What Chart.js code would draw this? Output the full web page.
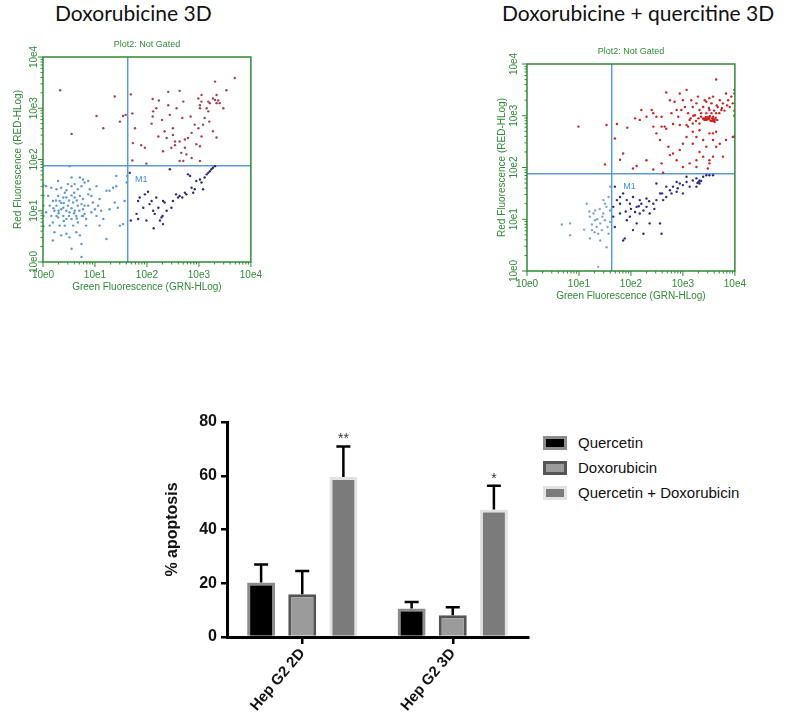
<!DOCTYPE html>
<html>
<head>
<meta charset="utf-8">
<script src="https://cdn.jsdelivr.net/npm/chart.js@4.4.1/dist/chart.umd.min.js"></script>
<style>
  html, body { margin: 0; padding: 0; background: #fff; }
  body { width: 800px; height: 716px; position: relative; overflow: hidden; }
  .box { position: absolute; }
  .bigtitle { position: absolute; font-family: Lato, "Open Sans", sans-serif; font-size: 21px; color: #111; white-space: nowrap; line-height: 24px; }
  #legend { position: absolute; left: 543px; top: 430px; font-family: "Liberation Sans", Arial, sans-serif; font-size: 15px; color: #111; }
  #legend .item { height: 25px; display: flex; align-items: center; white-space: nowrap; }
  #legend .sw { width: 18px; height: 8px; border-style: solid; border-width: 3px; margin-right: 11px; }
</style>
</head>
<body>
<div class="bigtitle" id="t1" style="left:55px; top:1px;"></div>
<div class="bigtitle" id="t2" style="left:502px; top:1px;"></div>

<div class="box" style="left:0px; top:32px;"><canvas id="flow1" width="265" height="270"></canvas></div>
<div class="box" style="left:484px; top:39px;"><canvas id="flow2" width="265" height="272"></canvas></div>
<div class="box" style="left:140px; top:400px;"><canvas id="bars" width="400" height="316"></canvas></div>
<div id="legend"></div>

<script>
// ---------------- DATA ----------------
const panelTitles = ['Doxorubicine 3D', 'Doxorubicine + quercitine 3D'];
const plotSubtitle = 'Plot2: Not Gated';
const xAxisTitle = 'Green Fluorescence (GRN-HLog)';
const yAxisTitle = 'Red Fluorescence (RED-HLog)';
const decadeLabels = ['10e0', '10e1', '10e2', '10e3', '10e4'];
const markerLabel = 'M1';
// quadrant gate positions (log decades)
const gate1 = [1.63, 1.88];
const gate2 = [1.63, 1.88];
const marker1 = [1.77, 1.61];
const marker2 = [1.85, 1.63];

// Panel 1 events: [green decade, red decade]
const leftRed = [
  [0.33,3.35],[0.55,2.50],[1.03,2.85],[1.16,2.61],[1.38,3.23],[1.48,2.74],[1.54,2.85],[1.59,2.87],
  [1.69,3.27],[1.72,2.90],[1.77,2.61],[1.73,2.32],[1.89,2.28],[1.96,2.23],[1.72,1.98],[1.99,1.92],
  [2.09,2.70],[2.11,2.84],[2.12,2.94],[2.18,3.00],[2.11,3.18],[2.23,3.15],[2.29,2.77],[2.22,2.45],
  [2.34,2.55],[2.38,2.42],[2.41,3.32],[2.41,3.06],[2.44,2.87],[2.50,2.61],[2.54,2.35],[2.54,2.28],
  [2.63,2.35],[2.57,3.00],[2.63,3.34],[2.66,2.13],[2.70,3.13],[2.68,2.81],[2.73,2.39],[2.73,2.23],
  [2.79,2.42],[2.84,2.84],[2.86,2.52],[2.92,2.68],[2.99,3.19],[3.02,3.06],[3.05,3.13],[3.02,3.00],
  [2.95,2.30],[3.02,2.26],[3.05,2.45],[3.08,2.68],[3.11,2.81],[3.15,3.00],[3.18,3.13],[3.21,3.10],
  [3.18,2.94],[3.20,2.74],[3.27,3.19],[3.31,3.16],[3.34,3.10],[3.37,3.15],[3.40,3.10],[3.47,3.00],
  [3.31,3.52],[3.34,3.26],[3.53,3.35],[3.69,3.59],[3.02,1.97],[2.86,2.03],[2.76,2.10],[2.70,1.97],
  [2.63,1.97],[2.47,2.23],[2.31,2.16],[2.50,2.48],[3.27,2.55],[3.34,2.43],[2.99,2.61],[3.05,3.26]
];
const leftNavy = [
  [1.67,1.74],[1.69,0.81],[1.80,0.94],[1.83,1.19],[1.86,1.26],[1.96,1.32],[2.02,1.37],[1.99,0.81],
  [2.05,1.13],[2.12,1.00],[2.13,0.66],[2.15,0.94],[2.18,1.26],[2.22,1.06],[2.25,0.81],[2.30,0.90],
  [2.31,1.19],[2.34,1.16],[2.44,1.81],[2.47,1.06],[2.50,1.19],[2.56,1.32],[2.60,1.26],[2.63,1.29],
  [2.68,1.26],[2.73,1.35],[2.76,1.32],[2.79,1.71],[2.83,1.68],[2.86,1.45],[2.89,1.35],[2.92,1.42],
  [2.95,1.58],[3.02,1.61],[3.05,1.55],[3.08,1.42],[3.11,1.65],[3.15,1.71],[3.18,1.74],[3.21,1.77],
  [3.24,1.81],[3.27,1.84],[3.31,1.87],[2.31,0.74],[2.28,0.87],[2.09,1.19],[2.38,1.00],[1.93,1.06],
  [1.83,0.84]
];
const leftLightBlue = [
  [0.06,1.48],[0.10,1.29],[0.13,1.10],[0.16,0.90],[0.19,0.77],[0.22,0.58],[0.13,0.71],[0.06,0.97],
  [0.26,1.42],[0.29,1.29],[0.32,1.19],[0.35,1.03],[0.39,0.90],[0.42,0.71],[0.45,0.55],[0.26,1.10],
  [0.22,1.00],[0.29,0.87],[0.32,0.71],[0.35,1.45],[0.42,1.35],[0.45,1.26],[0.48,1.10],[0.51,0.97],
  [0.55,0.84],[0.58,1.16],[0.61,1.00],[0.64,0.90],[0.67,0.77],[0.71,1.29],[0.74,1.13],[0.77,1.03],
  [0.80,0.94],[0.83,0.84],[0.48,1.52],[0.55,1.48],[0.61,1.52],[0.67,1.42],[0.74,1.48],[0.80,1.55],
  [0.87,1.58],[0.90,1.42],[0.93,1.29],[0.96,1.16],[1.00,1.03],[1.03,0.90],[1.06,1.10],[1.09,1.23],
  [1.12,1.00],[1.16,0.84],[1.22,1.39],[1.28,1.39],[1.35,1.45],[1.41,1.48],[1.44,1.06],[1.48,0.71],
  [1.54,0.74],[1.57,1.19],[1.61,1.55],[1.62,1.68],[1.41,1.68],[1.38,1.16],[0.51,1.87],[0.77,0.90],
  [0.83,0.71],[0.71,0.52],[0.51,0.48],[0.35,0.52],[0.19,0.42],[0.74,0.35],[0.74,0.10],[0.55,0.26],
  [1.22,0.45],[0.29,1.58],[0.16,1.45],[0.64,0.58],[0.87,1.32],[0.93,0.97],[0.45,0.84],[0.39,1.06],
  [0.58,0.71],[0.67,1.10],[0.87,1.10],[0.39,1.26],[0.61,1.26],[0.77,1.23],[0.19,1.19],[0.26,0.90],
  [0.55,1.65],[0.77,1.61],[1.03,1.48],[1.09,0.71],[1.28,1.03],[0.71,1.65],
  [0.30,1.00],[0.40,1.15],[0.50,1.20],[0.55,1.05],[0.60,0.95],[0.65,1.20],[0.45,1.00],[0.35,1.15],
  [0.50,0.90],[0.70,1.00],[0.25,1.20],[0.40,0.80],[0.60,1.35],[0.80,1.10],[0.20,1.05],[0.30,0.95],
  [0.45,1.40],[0.55,1.30],[0.65,0.85],[0.75,0.90],
  [0.01,1.30],[0.01,1.10],[0.01,0.90],[0.01,1.50],[0.01,0.70]
];

// Panel 2 events
const rightRed = [
  [0.99,2.79],[1.53,2.82],[1.50,2.06],
  [1.73,2.84],[1.93,2.77],[2.08,2.95],[2.17,2.92],[2.20,3.11],[2.30,2.98],[2.40,3.11],[2.43,2.79],
  [2.49,2.98],[2.59,2.79],[2.65,2.79],[2.68,3.45],[2.75,3.30],[2.78,3.05],[2.84,3.27],[2.88,3.11],
  [2.91,2.98],[2.94,3.43],[2.97,3.11],[3.00,3.30],[3.04,3.17],[3.07,3.50],[3.10,3.05],[3.13,2.92],
  [3.16,3.30],[3.19,3.17],[3.23,3.01],[3.26,3.24],[3.29,3.37],[3.32,3.11],[3.35,2.98],[3.39,3.17],
  [3.42,3.30],[3.45,3.05],[3.48,2.95],[3.51,3.11],[3.55,3.24],[3.58,2.98],[3.61,2.92],[3.64,3.05],
  [3.67,3.17],[3.71,3.30],[3.74,3.11],[3.77,3.24],[3.83,3.43],[3.87,3.30],[3.90,3.17],[3.93,3.37],
  [3.96,3.24],[3.99,3.43],[3.64,3.70],[3.58,3.37],[3.51,3.34],[3.45,3.27],[3.39,2.95],[3.42,2.92],
  [3.48,2.93],[3.55,2.90],[3.58,2.94],[3.61,2.88],[3.51,2.98],[3.44,2.97],[3.32,2.85],[3.19,2.85],
  [3.07,2.82],[2.94,2.82],[2.81,2.84],[2.68,2.75],[2.59,2.98],[2.49,2.66],[2.43,3.05],[2.56,2.53],
  [2.72,2.40],[2.81,2.27],[2.88,2.14],[2.94,2.34],[3.00,2.46],[3.07,2.59],[3.19,2.46],[3.26,2.59],
  [3.32,2.72],[3.39,2.53],[3.45,2.40],[3.51,2.66],[3.58,2.53],[3.64,2.40],[3.71,2.46],[3.77,2.21],
  [3.83,2.53],[3.96,2.59],[3.51,2.14],[3.39,2.21],[3.26,2.14],[3.13,2.08],[3.00,2.01],[2.75,2.24],
  [2.62,1.90],[2.43,1.96],[2.11,2.03],[1.85,2.27],[1.79,2.15],[1.69,2.56],[2.04,1.98],[3.26,2.01],
  [3.48,1.98],[3.51,2.08],[3.58,2.21],[3.32,2.30],[3.58,2.66],[3.64,2.69],[3.19,2.69],[3.10,2.79],
  [2.59,2.08],[2.30,2.14],
  [3.40,2.93],[3.45,2.92],[3.50,2.94],[3.53,2.91],[3.56,2.95],[3.60,2.93],[3.63,2.96],[3.47,2.97],
  [3.52,2.99],[3.58,2.90],[3.66,2.92],[3.43,2.95],[3.55,3.05],[3.60,3.10],[3.50,3.15],[3.70,3.05],
  [3.65,3.20],[3.75,3.15],[3.80,3.10],[3.85,3.20],[3.35,3.05],[3.30,2.95],[3.25,2.90],[3.20,3.00],
  [3.15,2.95],[3.99,3.10],[3.99,3.00],[3.99,2.60],[3.99,3.50]
];
const rightNavy = [
  [1.69,1.63],[1.79,1.43],[1.85,1.50],[1.92,1.37],[1.98,1.30],[2.04,1.43],[2.11,1.24],[2.17,1.11],
  [2.24,1.17],[2.30,1.24],[2.36,1.11],[2.43,1.30],[2.49,1.37],[2.56,1.50],[2.62,1.37],[2.68,1.43],
  [2.75,1.56],[2.81,1.63],[2.88,1.53],[2.94,1.69],[3.00,1.66],[3.07,1.72],[3.13,1.63],[3.19,1.75],
  [3.26,1.79],[3.32,1.69],[3.39,1.82],[3.45,1.85],[3.51,1.85],[1.79,1.11],[1.92,0.98],[1.98,1.05],
  [2.11,0.92],[2.24,0.72],[2.36,0.92],[1.66,1.24],[1.66,1.05],[1.69,0.85],[1.85,0.59],[1.88,0.63],
  [2.04,0.79],[2.56,0.92],[2.59,0.72],[2.68,1.63],[2.78,1.50],[2.88,1.72],[3.07,1.82],[3.32,1.75],
  [3.26,1.63],[3.58,1.85],[2.49,1.69],[2.17,1.37],[2.08,1.14],[1.79,1.30],[1.73,1.37],
  [3.30,1.72],[3.35,1.74],[3.28,1.70],[2.00,1.20],[2.20,1.30],[2.30,1.40],[2.45,1.20],[2.60,1.50],
  [2.90,1.60],[3.00,1.50],[1.90,1.15],[2.15,1.25],[2.35,1.35]
];
const rightLightBlue = [
  [0.67,0.90],[0.83,0.92],[0.83,0.69],[1.15,1.30],[1.21,1.05],[1.28,1.11],[1.31,0.98],[1.34,0.85],
  [1.37,0.72],[1.41,0.92],[1.44,0.79],[1.47,1.11],[1.50,0.98],[1.53,1.24],[1.47,1.37],[1.57,1.43],
  [1.60,1.17],[1.57,0.72],[1.53,0.46],[1.37,0.08],[1.21,0.63],[1.25,0.79],[1.41,0.59],[1.31,1.17],
  [1.60,1.63],[1.35,1.00],[1.45,1.05],[1.25,0.90],[1.55,0.85],[1.40,1.20],[1.30,0.75],[1.50,1.30],
  [1.60,0.95],[1.20,1.15],[1.10,0.80]
];

// Bar chart
const groups = ['Hep G2 2D', 'Hep G2 3D'];
const seriesNames = ['Quercetin', 'Doxorubicin', 'Quercetin + Doxorubicin'];
const quercetin = [20.3, 10.6];
const quercetinErr = [6.7, 2.4];
const doxorubicin = [15.9, 8.1];
const doxorubicinErr = [8.7, 3.0];
const combination = [59.5, 47.4];
const combinationErr = [11.4, 8.9];
const significance = ['', '', ['**', '*']];
const yTickValues = [0, 20, 40, 60, 80];

// ---------------- STYLES ----------------
const GREEN = '#2f8a35';
const GATE_BLUE = '#5b9bd5';

document.getElementById('t1').textContent = panelTitles[0];
document.getElementById('t2').textContent = panelTitles[1];

const flowDecor = {
  id: 'flowDecor',
  beforeDatasetsDraw(chart) {
    const o = chart.options.plugins.flowDecor;
    const { ctx, chartArea: a, scales: { x, y } } = chart;
    ctx.save();
    ctx.strokeStyle = GATE_BLUE; ctx.lineWidth = 1.5;
    const gx = x.getPixelForValue(o.gate[0]), gy = y.getPixelForValue(o.gate[1]);
    ctx.beginPath();
    ctx.moveTo(gx, a.top); ctx.lineTo(gx, a.bottom);
    ctx.moveTo(a.left, gy); ctx.lineTo(a.right, gy);
    ctx.stroke();
    ctx.fillStyle = '#3c8fdc';
    ctx.font = '9px "Liberation Sans", Arial, sans-serif';
    ctx.textBaseline = 'middle'; ctx.textAlign = 'left';
    ctx.fillText(markerLabel, x.getPixelForValue(o.marker[0]), y.getPixelForValue(o.marker[1]));
    ctx.restore();
  },
  afterDraw(chart) {
    const o = chart.options.plugins.flowDecor;
    const { ctx, chartArea: a, scales: { x, y } } = chart;
    ctx.save();
    ctx.strokeStyle = GREEN; ctx.lineWidth = 1.5;
    ctx.strokeRect(a.left, a.top, a.right - a.left, a.bottom - a.top);
    ctx.lineWidth = 1;
    ctx.beginPath();
    for (let d = 0; d <= 4; d++) {
      const px = x.getPixelForValue(d), py = y.getPixelForValue(d);
      ctx.moveTo(px, a.bottom); ctx.lineTo(px, a.bottom + 5);
      ctx.moveTo(a.left, py); ctx.lineTo(a.left - 5, py);
      if (d < 4) {
        for (let k = 2; k <= 9; k++) {
          const v = d + Math.log10(k);
          const mx = x.getPixelForValue(v), my = y.getPixelForValue(v);
          ctx.moveTo(mx, a.bottom); ctx.lineTo(mx, a.bottom + 2.5);
          ctx.moveTo(a.left, my); ctx.lineTo(a.left - 2.5, my);
        }
      }
    }
    ctx.stroke();
    // y tick labels, rotated
    ctx.fillStyle = GREEN;
    ctx.font = '10px "Liberation Sans", Arial, sans-serif';
    ctx.textAlign = 'center'; ctx.textBaseline = 'middle';
    y.ticks.forEach(t => {
      const py = y.getPixelForValue(t.value);
      ctx.save();
      ctx.translate(a.left - o.yLabelGap, py);
      ctx.rotate(-Math.PI / 2);
      ctx.fillText(decadeLabels[t.value], 0, 0);
      ctx.restore();
    });
    // subtitle
    ctx.font = '9px "Liberation Sans", Arial, sans-serif';
    ctx.textBaseline = 'alphabetic';
    ctx.fillText(plotSubtitle, (a.left + a.right) / 2, a.top - 10);
    ctx.restore();
  }
};

function toXY(arr) { return arr.map(p => ({ x: p[0], y: p[1] })); }

function makeFlow(id, red, navy, light, colors, gate, marker, yLabelGap) {
  return new Chart(document.getElementById(id), {
    type: 'scatter',
    data: {
      datasets: [
        { label: 'upper', data: toXY(red), backgroundColor: colors[0], pointRadius: 1.2, borderWidth: 0 },
        { label: 'lower right', data: toXY(navy), backgroundColor: colors[1], pointRadius: 1.2, borderWidth: 0 },
        { label: 'lower left', data: toXY(light), backgroundColor: colors[2], pointRadius: 1.2, borderWidth: 0 }
      ]
    },
    options: {
      responsive: false, animation: false, events: [],
      layout: { padding: { top: 25, right: 14, left: 0, bottom: 0 } },
      plugins: {
        legend: { display: false }, tooltip: { enabled: false },
        flowDecor: { gate: gate, marker: marker, yLabelGap: yLabelGap }
      },
      scales: {
        x: {
          type: 'linear', min: 0, max: 4,
          afterFit: s => { s.height = 40; },
          border: { display: false },
          grid: { display: false, drawTicks: true, tickLength: 4 },
          ticks: { stepSize: 1, color: GREEN, padding: 3, maxRotation: 0,
                   font: { size: 10, family: '"Liberation Sans", Arial, sans-serif' },
                   callback: v => decadeLabels[v] },
          title: { display: true, text: xAxisTitle, color: GREEN,
                   font: { size: 10, family: '"Liberation Sans", Arial, sans-serif' },
                   padding: { top: 0, bottom: 9 } }
        },
        y: {
          type: 'linear', min: 0, max: 4,
          afterFit: s => { s.width = 43; },
          border: { display: false },
          grid: { display: false },
          ticks: { stepSize: 1, display: false },
          title: { display: true, text: yAxisTitle, color: GREEN,
                   font: { size: 10, family: '"Liberation Sans", Arial, sans-serif' },
                   padding: { top: 12, bottom: 0 } }
        }
      }
    },
    plugins: [flowDecor]
  });
}

makeFlow('flow1', leftRed, leftNavy, leftLightBlue, ['#a2424f', '#2b2b78', '#5e98cf'], gate1, marker1, 9);
makeFlow('flow2', rightRed, rightNavy, rightLightBlue, ['#c92424', '#2a2a8a', '#7ea6cf'], gate2, marker2, 13);

// ---------------- BAR CHART ----------------
const barFills = ['#000000', '#9b9b9b', '#7b7b7b'];
const barBorders = ['#8c8c8c', '#555555', '#e2e2e2'];
const values = [quercetin, doxorubicin, combination];
const errors = [quercetinErr, doxorubicinErr, combinationErr];

const errorBars = {
  id: 'errorBars',
  afterDatasetsDraw(chart) {
    const { ctx, scales: { y } } = chart;
    ctx.save();
    chart.data.datasets.forEach((ds, i) => {
      const meta = chart.getDatasetMeta(i);
      meta.data.forEach((el, j) => {
        const top = y.getPixelForValue(ds.data[j] + errors[i][j]);
        ctx.strokeStyle = '#000'; ctx.lineWidth = 2.5;
        ctx.beginPath();
        ctx.moveTo(el.x, el.y); ctx.lineTo(el.x, top);
        ctx.moveTo(el.x - 7, top); ctx.lineTo(el.x + 7, top);
        ctx.stroke();
        const sig = Array.isArray(significance[i]) ? significance[i][j] : '';
        if (sig) {
          ctx.fillStyle = '#333';
          ctx.font = '14px "Liberation Sans", Arial, sans-serif';
          ctx.textAlign = 'center'; ctx.textBaseline = 'middle';
          ctx.fillText(sig, el.x, top - 7);
        }
      });
    });
    ctx.restore();
  }
};

const barChart = new Chart(document.getElementById('bars'), {
  type: 'bar',
  data: {
    labels: groups,
    datasets: seriesNames.map((n, i) => ({
      label: n, data: values[i], backgroundColor: barFills[i], borderColor: barBorders[i],
      borderWidth: 3, barPercentage: 0.68, categoryPercentage: 0.82
    }))
  },
  options: {
    responsive: false, animation: false, events: [],
    layout: { padding: { top: 22, right: 12, left: 0, bottom: 0 } },
    plugins: { legend: { display: false }, tooltip: { enabled: false } },
    scales: {
      x: {
        afterFit: s => { s.height = 79; },
        border: { display: true, color: '#000', width: 3 },
        grid: { display: true, drawOnChartArea: false, offset: false, color: '#000', lineWidth: 2.5, tickLength: 7 },
        ticks: { color: '#111', minRotation: 50, maxRotation: 50, padding: 1,
                 font: { size: 15, weight: 'bold', family: '"Liberation Sans", Arial, sans-serif' } }
      },
      y: {
        min: 0, max: 80,
        afterFit: s => { s.width = 87; },
        afterBuildTicks: s => { s.ticks = yTickValues.map(v => ({ value: v })); },
        border: { display: true, color: '#000', width: 3 },
        grid: { display: true, drawOnChartArea: false, color: '#000', lineWidth: 2.5, tickLength: 6 },
        ticks: { color: '#111', padding: 4,
                 font: { size: 16, weight: 'bold', family: '"Liberation Sans", Arial, sans-serif' } },
        title: { display: true, text: '% apoptosis', color: '#111',
                 font: { size: 16, weight: 'bold', family: '"Liberation Sans", Arial, sans-serif' },
                 padding: { top: 23, bottom: 0 } }
      }
    }
  },
  plugins: [errorBars]
});

// HTML legend from the bar datasets
const legend = document.getElementById('legend');
barChart.data.datasets.forEach(ds => {
  const it = document.createElement('div'); it.className = 'item';
  const sw = document.createElement('span'); sw.className = 'sw';
  sw.style.background = ds.backgroundColor; sw.style.borderColor = ds.borderColor;
  const tx = document.createElement('span'); tx.textContent = ds.label;
  it.appendChild(sw); it.appendChild(tx); legend.appendChild(it);
});
</script>
</body>
</html>
